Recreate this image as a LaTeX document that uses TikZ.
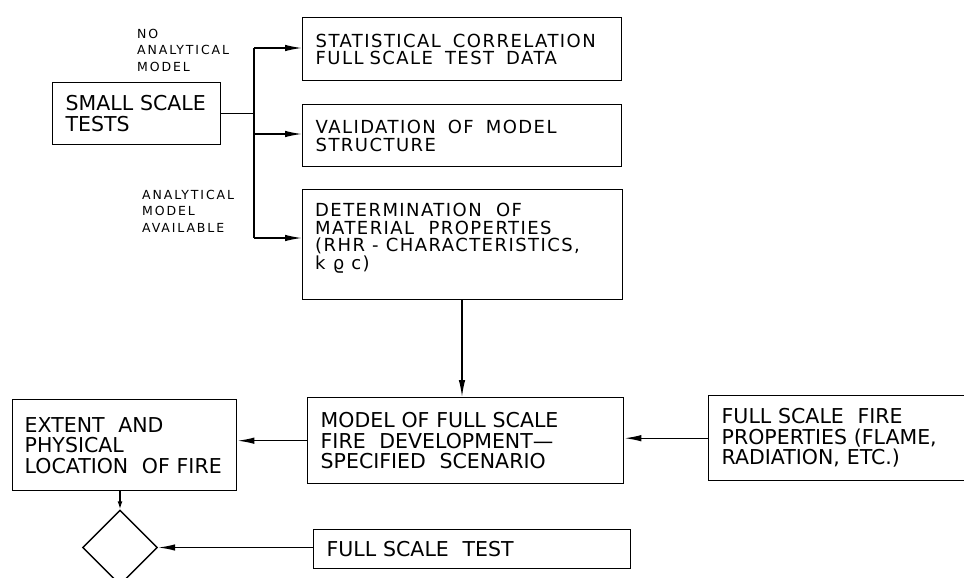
\documentclass[tikz,border=0pt]{standalone}
\usepackage{fontspec}
\setmainfont{DejaVu Sans}
\newfontfamily\spacedfont[LetterSpace=8]{DejaVu Sans}
\newfontfamily\labelfont[LetterSpace=15]{DejaVu Sans}
\usetikzlibrary{arrows.meta,shapes.geometric}
\tikzset{
  box/.style={draw, line width=1.4pt, anchor=north west, inner xsep=13pt, inner ysep=0pt, align=left},
  bigtext/.style={font=\fontsize{20.5}{20.5}\selectfont},
  smalltext/.style={font=\spacedfont\fontsize{18}{17.5}\selectfont},
  lbl/.style={font=\labelfont\fontsize{12.5}{16.5}\selectfont, align=left, inner sep=0pt, anchor=north west},
  ln/.style={line width=1.4pt},
  arr/.style={line width=1.4pt, -{Latex[length=17pt,width=6.5pt]}},
  shortarr/.style={line width=1.4pt, -{Latex[length=8pt,width=5pt]}},
}
\begin{document}
\begin{tikzpicture}[x=1pt,y=-1pt]
\useasboundingbox (0,0) rectangle (964,578);
\fill[white] (0,0) rectangle (964,578);

% labels
\node[lbl] (lab1) at (137,29) {NO\\ANALYTICAL\\MODEL};
\node[lbl] (lab2) at (142,190) {ANALYTICAL\\MODEL\\AVAILABLE};

% boxes
\node[box, bigtext, minimum width=168pt, minimum height=62pt, text width=142pt] (sst) at (52,82) {SMALL SCALE\\TESTS};
\node[box, smalltext, minimum width=319pt, minimum height=63pt, text width=293pt] (stat) at (302,17) {STATISTICAL \ CORRELATION\\FULL SCALE \ TEST \ DATA};
\node[box, smalltext, minimum width=319pt, minimum height=62pt, text width=293pt] (val) at (302,104) {VALIDATION \ OF \ MODEL\\STRUCTURE};
\node[box, minimum width=320pt, minimum height=110pt] (det) at (302,189) {};
\node[smalltext, align=left, inner sep=0pt, anchor=north west] (dettxt) at (315,203) {DETERMINATION \ OF\\MATERIAL \ PROPERTIES\\(RHR - CHARACTERISTICS,\\k ϱ c)};
\node[box, bigtext, minimum width=316pt, minimum height=86pt, text width=290pt] (model) at (307,397) {MODEL OF FULL SCALE\\FIRE \ DEVELOPMENT—\\SPECIFIED \ SCENARIO};
\node[box, bigtext, minimum width=262pt, minimum height=85pt, text width=236pt] (fsfp) at (708,395) {FULL SCALE \ FIRE\\PROPERTIES (FLAME,\\RADIATION, ETC.)};
\node[box, bigtext, minimum width=224pt, minimum height=91pt, text width=200pt, inner xsep=12pt] (ext) at (12,399) {EXTENT \ AND\\PHYSICAL\\LOCATION \ OF FIRE};
\node[draw, diamond, line width=1.4pt, minimum width=75pt, minimum height=75pt, inner sep=0pt] (dia) at (120,547.5) {};
\node[box, bigtext, minimum width=317pt, minimum height=39pt, text width=291pt] (fst) at (313,529) {FULL SCALE \ TEST};

% branch connectors
\coordinate (bj) at (254,113);
\coordinate (b1) at (254,48);
\coordinate (b2) at (254,134);
\coordinate (b3) at (254,238);
\draw[ln] (sst.east) -- (sst.east -| bj);
\draw[ln] (b1) -- (b3);
\draw[arr] (b1) -- (b1 -| stat.west);
\draw[arr] (b2) -- (b2 -| val.west);
\draw[arr] (b3) -- (b3 -| det.west);

% other connectors
\coordinate (vx) at (462,0);
\draw[arr] (det.south -| vx) -- (model.north -| vx);
\draw[arr] (fsfp.west) -- (fsfp.west -| model.east);
\draw[arr] (model.west) -- (model.west -| ext.east);
\draw[shortarr] (ext.south -| dia.north) -- (dia.north);
\draw[arr] (fst.west |- dia.east) -- (dia.east);
\end{tikzpicture}
\end{document}
